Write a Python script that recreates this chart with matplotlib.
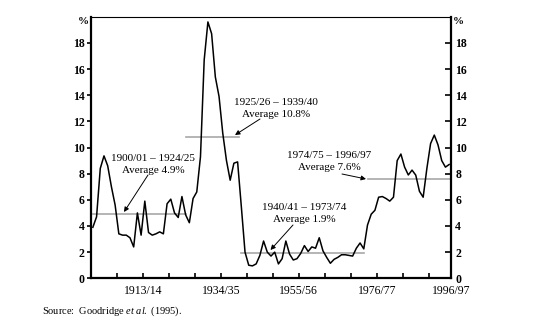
import matplotlib
matplotlib.use("Agg")
import matplotlib.pyplot as plt

plt.rcParams["mathtext.fontset"] = "custom"
plt.rcParams["mathtext.rm"] = "Liberation Serif"
plt.rcParams["mathtext.it"] = "Liberation Serif:italic"

# Fiscal years (first calendar year of each year) and the rate in per cent
years = list(range(1899, 1996))
rates = [
    3.9, 4.7, 8.4, 9.36, 8.6, 7.0, 5.6, 3.4, 3.3, 3.3,      # 1899-1908
    3.1, 2.4, 5.0, 3.3, 5.9, 3.5, 3.3, 3.4, 3.55, 3.4,      # 1909-1918
    5.7, 6.05, 5.0, 4.65, 6.25, 4.85, 4.25, 6.1, 6.6, 9.3,  # 1919-1928
    16.7, 19.6, 18.7, 15.4, 13.9, 11.1, 9.0, 7.5, 8.8, 8.9, # 1929-1938
    5.5, 2.0, 1.0, 0.95, 1.1, 1.75, 2.85, 2.0, 1.7, 2.0,    # 1939-1948
    1.1, 1.5, 2.85, 1.85, 1.4, 1.5, 1.9, 2.5, 2.05, 2.4,    # 1949-1958
    2.3, 3.1, 2.1, 1.6, 1.15, 1.45, 1.6, 1.8, 1.8, 1.75,    # 1959-1968
    1.7, 2.3, 2.7, 2.25, 4.07, 4.9, 5.2, 6.2, 6.25, 6.1,    # 1969-1978
    5.9, 6.2, 9.0, 9.5, 8.5, 7.9, 8.27, 7.89, 6.65, 6.2,    # 1979-1988
    8.4, 10.3, 10.95, 10.2, 9.0, 8.5, 8.7,                  # 1989-1995
]

# Period averages: (label, average, first year, last year)
period_labels = ["1900/01 \u2013 1924/25", "1925/26 \u2013 1939/40",
                 "1940/41 \u2013 1973/74", "1974/75 \u2013 1996/97"]
period_avgs = [4.9, 10.8, 1.9, 7.6]
period_start = [1899.5, 1924.5, 1939.5, 1973.6]
period_end = [1924.5, 1939.0, 1972.5, 1995.7]

tick_years = [1913, 1934, 1955, 1976, 1996]
tick_labels = ["1913/14", "1934/35", "1955/56", "1976/77", "1996/97"]

serif = "Liberation Serif"

fig = plt.figure(figsize=(5.39, 3.22), dpi=100)
ax = fig.add_axes([91 / 539, 1 - 278.3 / 322, 360 / 539, (278.3 - 16.7) / 322])

# period average lines
for avg, x0, x1 in zip(period_avgs, period_start, period_end):
    ax.plot([x0, x1], [avg, avg], color="#a8a8a8", lw=1.2, zorder=1)

xs = [y + 0.5 for y in years]
ax.plot(xs, rates, color="black", lw=1.1, zorder=2)

ax.set_xlim(1899, 1996)
ax.set_ylim(0, 20)

# axes frame
for side in ["left", "right", "bottom"]:
    ax.spines[side].set_linewidth(1.6)
ax.spines["top"].set_linewidth(0.8)

# x ticks: every seven years, labelled every 21
xt = list(range(1899, 1996, 7)) + [1996]
ax.set_xticks(xt)
xl = [tick_labels[tick_years.index(t)] if t in tick_years else "" for t in xt]
ax.set_xticklabels(xl, fontfamily=serif, fontsize=8.5)
ax.tick_params(axis="x", direction="in", length=3.5, width=1.2, pad=5)

# y ticks on both sides
yt = list(range(0, 19, 2))
ax.set_yticks(yt)
ax.set_yticklabels([str(v) for v in yt], fontfamily=serif, fontsize=8.5, fontweight="bold")
ax.tick_params(axis="y", direction="out", length=3, width=1.2, pad=1.5)

ax2 = ax.twinx()
ax2.set_ylim(0, 20)
ax2.set_yticks(yt)
ax2.set_yticklabels([str(v) for v in yt], fontfamily=serif, fontsize=8.5, fontweight="bold")
ax2.tick_params(axis="y", direction="in", length=4, width=1.2, pad=3)
for s in ax2.spines.values():
    s.set_visible(False)

# unit markers
fig.text(83 / 539, 1 - 22 / 322, "%", ha="center", va="center",
         fontfamily=serif, fontsize=8, fontweight="bold")
fig.text(458 / 539, 1 - 22 / 322, "%", ha="center", va="center",
         fontfamily=serif, fontsize=8, fontweight="bold")

# period annotations
def px(x, y):
    return (x / 539, 1 - y / 322)

text_pos = [(153, 158.5), (276, 102.5), (304.5, 208), (329.5, 156)]
arrow_from = [(148, 175), (260, 119), (293, 225), (342, 174)]
arrow_to = [(124, 212), (235, 135), (270.5, 250), (366, 179)]
aprops = dict(arrowstyle="-|>", lw=0.7, color="black", mutation_scale=7,
              shrinkA=0, shrinkB=0)
for lab, avg, tp, af, at in zip(period_labels, period_avgs, text_pos,
                                arrow_from, arrow_to):
    fig.text(*px(*tp), lab, ha="center", va="center", fontfamily=serif, fontsize=8)
    fig.text(*px(tp[0], tp[1] + 12), f"Average {avg}%", ha="center", va="center",
             fontfamily=serif, fontsize=8)
    ax.annotate("", xy=px(*at), xycoords="figure fraction",
                xytext=px(*af), textcoords="figure fraction", arrowprops=aprops)

# source note
fig.text(42 / 539, 1 - 311 / 322,
         r"Source:  Goodridge $\mathit{et\ al.}$ (1995).",
         ha="left", va="center", fontfamily=serif, fontsize=7.5)

fig.savefig("out.png", dpi=100)
